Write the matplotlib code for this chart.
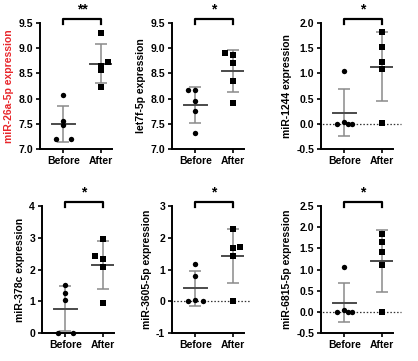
import numpy as np
import matplotlib
matplotlib.use("Agg")
import matplotlib.pyplot as plt

plt.rcParams['font.family'] = ['Liberation Sans', 'DejaVu Sans']
plt.rcParams['font.weight'] = 'bold'

groups = ['Before', 'After']

names = ['miR-26a-5p', 'let7f-5p', 'miR-1244', 'miR-378c', 'miR-3605-5p', 'miR-6815-5p']
stars = ['**', '*', '*', '*', '*', '*']

before_vals = [
    [8.08, 7.55, 7.48, 7.20, 7.20],
    [8.17, 8.18, 7.95, 7.75, 7.32],
    [1.05, 0.03, 0.00, 0.00, 0.00],
    [1.50, 1.25, 1.05, 0.00, 0.00],
    [1.17, 0.80, 0.04, 0.00, 0.00],
    [1.05, 0.04, 0.00, 0.00, 0.00],
]
after_vals = [
    [9.30, 8.72, 8.65, 8.57, 8.23],
    [8.90, 8.87, 8.70, 8.34, 7.91],
    [1.82, 1.52, 1.23, 1.08, 0.02],
    [2.97, 2.42, 2.32, 2.08, 0.93],
    [2.28, 1.72, 1.68, 1.42, 0.00],
    [1.83, 1.66, 1.42, 1.10, 0.00],
]
# horizontal scatter of points (category units)
before_jit = [
    [0.0, 0.0, 0.0, -0.2, 0.2],
    [-0.2, 0.0, 0.0, 0.0, 0.0],
    [0.0, 0.0, -0.2, 0.1, 0.2],
    [0.0, 0.0, 0.0, -0.2, 0.2],
    [0.0, 0.0, 0.0, -0.2, 0.2],
    [0.0, 0.0, -0.2, 0.1, 0.2],
]
after_jit = [
    [0.0, 0.2, 0.0, 0.0, 0.0],
    [-0.2, 0.0, 0.0, 0.0, 0.0],
    [0.0, 0.0, 0.0, 0.0, 0.0],
    [0.0, -0.2, 0.0, 0.0, 0.0],
    [0.0, 0.2, 0.0, 0.0, 0.0],
    [0.0, 0.0, 0.0, 0.0, 0.0],
]
ylims = [(7.0, 9.5), (7.0, 9.5), (-0.5, 2.0), (0, 4), (-1, 3), (-0.5, 2.5)]
yticks = [
    [7.0, 7.5, 8.0, 8.5, 9.0, 9.5],
    [7.0, 7.5, 8.0, 8.5, 9.0, 9.5],
    [-0.5, 0.0, 0.5, 1.0, 1.5, 2.0],
    [0, 1, 2, 3, 4],
    [-1, 0, 1, 2, 3],
    [-0.5, 0.0, 0.5, 1.0, 1.5, 2.0, 2.5],
]
ytick_fmt = ['%.1f', '%.1f', '%.1f', '%d', '%d', '%.1f']
zero_line = [False, False, True, False, True, True]

W, H = 418, 361
fig = plt.figure(figsize=(W / 100, H / 100), dpi=100)
lefts = [40, 172, 321, 42, 172, 321]
tops = [23, 23, 23, 206, 206, 206]
bottoms = [149, 149, 149, 333, 333, 333]
aw = 72

for i in range(6):
    ax = fig.add_axes([lefts[i] / W, 1 - bottoms[i] / H, aw / W, (bottoms[i] - tops[i]) / H])
    for k, (vals, jit, mk) in enumerate([(before_vals[i], before_jit[i], 'o'),
                                         (after_vals[i], after_jit[i], 's')]):
        v = np.array(vals)
        m = v.mean()
        sd = v.std(ddof=1)
        ax.errorbar([k], [m], yerr=[sd], fmt='none', ecolor='#8a8a8a',
                    elinewidth=1.1, capsize=4, capthick=1.1, zorder=2)
        ax.plot([k - 0.3, k + 0.3], [m, m], color='#4a4a4a', lw=1.4, zorder=3)
        ax.scatter(k + np.array(jit), v, marker=mk, s=15, color='black',
                   zorder=4, clip_on=False, linewidths=0)
    if zero_line[i]:
        ax.plot([-0.68, 1.5], [0, 0], ls=(0, (1.2, 1.5)), color='#333333',
                lw=0.9, zorder=1, clip_on=False)
    ax.set_xlim(-0.62, 1.3)
    ax.set_ylim(*ylims[i])
    ax.set_yticks(yticks[i])
    ax.set_yticklabels([ytick_fmt[i] % t for t in yticks[i]])
    ax.set_xticks([0, 1])
    ax.set_xticklabels(groups)
    for s in ['top', 'right']:
        ax.spines[s].set_visible(False)
    for s in ['left', 'bottom']:
        ax.spines[s].set_linewidth(1.4)
    ax.tick_params(width=1.2, length=3, labelsize=7.5, pad=2)
    ax.set_ylabel(names[i] + ' expression', fontsize=7.5, fontweight='bold',
                  color='#e8262b' if i == 0 else 'black', labelpad=3)
    # significance bracket
    yb = 1.03
    ax.plot([0, 0, 1, 1], [yb - 0.035, yb, yb, yb - 0.035], color='black', lw=1.6,
            transform=ax.get_xaxis_transform(), clip_on=False)
    ax.text(0.5, yb + 0.02, stars[i], ha='center', va='bottom', fontsize=10,
            fontweight='bold', transform=ax.get_xaxis_transform())

fig.savefig('out.png', dpi=100)
